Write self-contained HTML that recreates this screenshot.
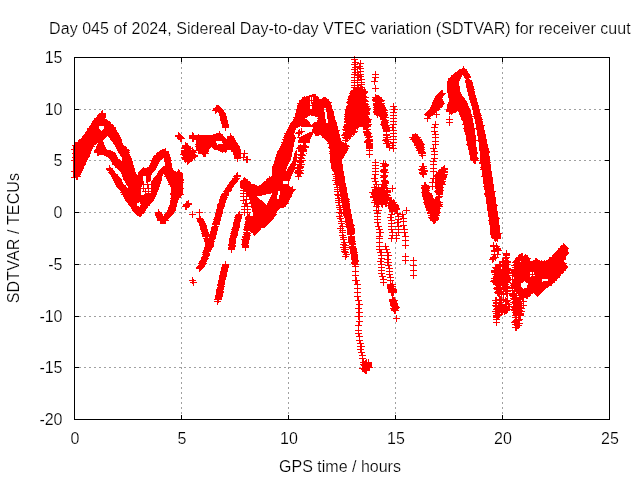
<!DOCTYPE html>
<html><head><meta charset="utf-8"><title>SDTVAR</title>
<style>
html,body{margin:0;padding:0;background:#fff;}
svg{display:block;}
text{font-family:"Liberation Sans",sans-serif;font-size:16px;fill:#000;stroke:#fff;stroke-width:0.2px;paint-order:fill stroke;}
</style></head><body>
<svg width="640" height="480" viewBox="0 0 640 480">
<rect width="640" height="480" fill="#fff"/>
<g shape-rendering="crispEdges" fill="none">
<path d="M181.5 57V419M288.5 57V419M395.5 57V419M502.5 57V419" stroke="#a0a0a0" stroke-width="1" stroke-dasharray="2 3"/>
<path d="M74 109.5H609M74 160.5H609M74 212.5H609M74 264.5H609M74 316.5H609M74 367.5H609" stroke="#a0a0a0" stroke-width="1" stroke-dasharray="2 3"/>
<path d="M74.5 419v-4M74.5 58v4M181.5 419v-4M181.5 58v4M288.5 419v-4M288.5 58v4M395.5 419v-4M395.5 58v4M502.5 419v-4M502.5 58v4M609.5 419v-4M609.5 58v4M75 57.5h4M609 57.5h-4M75 109.5h4M609 109.5h-4M75 160.5h4M609 160.5h-4M75 212.5h4M609 212.5h-4M75 264.5h4M609 264.5h-4M75 316.5h4M609 316.5h-4M75 367.5h4M609 367.5h-4M75 419.5h4M609 419.5h-4" stroke="#000" stroke-width="1"/>
<g transform="translate(0,0.5)"><path d="M354 56h1M354 57h1M354 58h1M351 59h7M354 60h2M360 60h1M354 61h2M360 61h1M352 62h7M360 62h1M354 63h2M357 63h7M351 64h7M359 64h2M354 65h2M359 65h2M354 66h9M463 66h1M352 67h9M463 67h1M354 68h2M357 68h7M462 68h3M351 69h7M359 69h2M459 69h8M354 70h2M357 70h1M360 70h1M458 70h9M354 71h2M357 71h7M375 71h1M457 71h11M352 72h9M375 72h1M455 72h13M354 73h2M357 73h2M360 73h1M375 73h1M454 73h15M351 74h13M372 74h7M453 74h17M354 75h8M375 75h1M451 75h11M463 75h7M354 76h1M357 76h7M375 76h1M451 76h11M464 76h7M351 77h11M372 77h7M450 77h11M464 77h7M354 78h1M357 78h2M360 78h2M374 78h2M448 78h13M465 78h4M354 79h1M357 79h8M374 79h2M448 79h12M466 79h4M351 80h11M374 80h2M448 80h12M465 80h7M354 81h1M357 81h1M361 81h1M371 81h7M447 81h12M465 81h7M351 82h14M374 82h1M447 82h12M465 82h8M354 83h1M357 83h1M361 83h1M374 83h1M447 83h12M466 83h7M354 84h1M357 84h8M374 84h1M447 84h12M466 84h7M351 85h11M375 85h1M447 85h12M466 85h7M354 86h1M357 86h2M360 86h3M375 86h1M447 86h13M466 86h8M351 87h14M375 87h1M447 87h13M466 87h8M353 88h10M364 88h1M372 88h7M447 88h13M467 88h7M353 89h13M375 89h1M447 89h13M467 89h8M351 90h15M375 90h1M441 90h2M447 90h13M467 90h7M350 91h18M375 91h1M440 91h3M447 91h13M467 91h8M350 92h18M439 92h4M447 92h14M468 92h7M349 93h18M438 93h8M448 93h13M468 93h7M312 94h4M350 94h16M375 94h1M437 94h8M448 94h14M468 94h7M309 95h7M349 95h17M375 95h4M436 95h8M448 95h14M468 95h8M304 96h1M306 96h12M348 96h19M375 96h5M435 96h8M448 96h15M469 96h7M302 97h8M311 97h1M313 97h6M323 97h3M348 97h21M372 97h10M435 97h8M448 97h16M469 97h7M302 98h8M311 98h1M313 98h6M322 98h5M348 98h18M373 98h9M434 98h8M449 98h16M469 98h8M301 99h9M311 99h1M313 99h16M347 99h20M372 99h11M434 99h9M449 99h16M469 99h8M299 100h30M348 100h20M372 100h13M433 100h10M449 100h17M470 100h7M299 101h11M311 101h1M313 101h17M347 101h22M373 101h11M433 101h11M449 101h18M470 101h7M299 102h11M311 102h21M346 102h20M375 102h7M432 102h12M448 102h19M470 102h8M297 103h13M311 103h20M347 103h21M373 103h12M393 103h1M432 103h13M448 103h20M471 103h7M298 104h12M312 104h19M348 104h21M373 104h11M393 104h1M432 104h12M447 104h21M471 104h7M216 105h3M297 105h35M347 105h21M373 105h12M393 105h1M431 105h12M447 105h21M471 105h8M216 106h4M297 106h13M312 106h20M346 106h24M374 106h11M390 106h7M431 106h12M447 106h22M472 106h7M215 107h6M297 107h13M312 107h20M346 107h23M373 107h13M393 107h2M430 107h12M447 107h22M472 107h7M213 108h9M297 108h13M312 108h12M326 108h6M346 108h25M374 108h12M393 108h2M430 108h10M447 108h23M472 108h7M213 109h10M296 109h28M326 109h7M345 109h25M373 109h14M391 109h7M429 109h11M446 109h24M472 109h8M102 110h1M212 110h12M296 110h28M326 110h7M345 110h25M374 110h14M393 110h2M428 110h11M446 110h25M473 110h7M101 111h2M215 111h9M296 111h28M326 111h8M345 111h24M373 111h13M393 111h2M427 111h10M446 111h11M458 111h13M473 111h7M101 112h2M215 112h2M218 112h7M296 112h29M327 112h7M345 112h25M373 112h15M390 112h7M426 112h11M449 112h7M459 112h12M473 112h7M99 113h7M215 113h1M219 113h7M295 113h30M327 113h7M345 113h25M374 113h13M393 113h1M425 113h10M436 113h1M449 113h4M459 113h12M473 113h8M98 114h8M219 114h7M295 114h30M327 114h7M344 114h26M374 114h14M393 114h1M424 114h16M449 114h1M451 114h1M459 114h13M473 114h8M97 115h9M219 115h7M295 115h15M311 115h14M327 115h7M345 115h23M376 115h12M390 115h7M425 115h8M436 115h1M460 115h12M474 115h8M97 116h9M220 116h7M295 116h13M315 116h10M327 116h8M344 116h25M377 116h1M379 116h8M393 116h1M427 116h4M436 116h1M449 116h1M460 116h21M96 117h10M220 117h7M293 117h14M318 117h7M327 117h8M345 117h24M377 117h1M380 117h9M393 117h1M427 117h3M436 117h1M449 117h1M461 117h11M474 117h8M94 118h11M220 118h7M294 118h11M317 118h8M327 118h8M344 118h26M380 118h6M390 118h7M424 118h7M449 118h1M461 118h12M474 118h8M94 119h13M220 119h7M293 119h14M318 119h8M328 119h7M344 119h28M380 119h7M393 119h1M427 119h1M446 119h7M461 119h12M475 119h8M93 120h15M220 120h8M293 120h15M317 120h9M328 120h8M345 120h26M382 120h7M393 120h1M427 120h1M449 120h1M462 120h11M475 120h7M92 121h18M221 121h7M292 121h17M317 121h9M328 121h8M344 121h27M381 121h7M390 121h7M427 121h1M435 121h1M449 121h1M463 121h10M475 121h8M92 122h19M221 122h7M291 122h19M314 122h12M328 122h9M344 122h27M381 122h8M393 122h1M435 122h1M446 122h7M463 122h10M475 122h8M91 123h20M221 123h7M290 123h20M313 123h24M346 123h23M381 123h7M393 123h1M435 123h1M449 123h1M463 123h11M475 123h8M91 124h22M222 124h7M290 124h21M312 124h25M344 124h28M380 124h8M390 124h7M432 124h7M449 124h1M462 124h12M476 124h7M90 125h24M222 125h7M289 125h48M344 125h27M381 125h9M392 125h2M434 125h2M449 125h1M464 125h10M476 125h9M89 126h10M104 126h10M222 126h7M289 126h11M301 126h37M343 126h28M382 126h7M392 126h2M434 126h2M464 126h10M476 126h8M89 127h10M104 127h12M222 127h7M288 127h10M313 127h25M343 127h16M363 127h6M382 127h14M431 127h7M464 127h10M476 127h8M87 128h12M104 128h12M225 128h1M288 128h8M301 128h1M313 128h25M344 128h14M363 128h5M382 128h8M392 128h2M434 128h1M463 128h21M87 129h13M103 129h13M225 129h1M287 129h9M299 129h1M301 129h1M312 129h26M342 129h14M357 129h1M363 129h8M383 129h7M392 129h2M434 129h1M464 129h11M476 129h8M87 130h14M102 130h15M225 130h1M287 130h8M298 130h2M301 130h1M312 130h28M343 130h13M366 130h3M383 130h14M434 130h1M464 130h11M477 130h8M86 131h31M219 131h1M286 131h9M298 131h7M312 131h27M345 131h13M363 131h7M383 131h7M393 131h1M431 131h7M464 131h11M477 131h8M85 132h33M178 132h1M192 132h1M219 132h1M286 132h9M296 132h7M309 132h30M343 132h14M363 132h8M386 132h1M393 132h1M434 132h2M465 132h10M477 132h8M85 133h34M178 133h2M192 133h2M216 133h5M230 133h1M284 133h10M295 133h7M307 133h6M314 133h25M343 133h12M364 133h8M386 133h1M390 133h7M415 133h1M434 133h2M465 133h10M477 133h8M84 134h35M178 134h3M192 134h2M198 134h1M213 134h10M230 134h1M285 134h9M298 134h2M301 134h1M305 134h8M315 134h25M342 134h13M364 134h7M383 134h7M393 134h1M412 134h6M432 134h7M465 134h10M477 134h9M83 135h37M175 135h7M189 135h34M230 135h2M284 135h11M298 135h2M303 135h9M315 135h4M321 135h19M341 135h11M353 135h1M364 135h7M383 135h7M393 135h1M412 135h6M435 135h1M466 135h10M477 135h9M82 136h25M108 136h12M175 136h8M189 136h35M227 136h7M284 136h11M298 136h1M301 136h11M322 136h18M344 136h9M366 136h7M386 136h2M390 136h7M412 136h7M435 136h1M466 136h10M478 136h8M82 137h24M109 137h12M177 137h7M189 137h36M227 137h7M283 137h13M297 137h14M322 137h18M342 137h9M365 137h7M383 137h8M393 137h1M409 137h12M432 137h7M466 137h10M478 137h8M81 138h24M110 138h11M177 138h8M189 138h37M227 138h8M284 138h12M299 138h12M324 138h17M343 138h8M367 138h3M385 138h3M393 138h1M411 138h9M435 138h1M466 138h10M478 138h8M79 139h25M110 139h12M178 139h4M192 139h43M282 139h13M299 139h11M325 139h16M345 139h3M349 139h1M366 139h7M383 139h14M410 139h12M435 139h1M466 139h10M478 139h9M78 140h25M111 140h11M180 140h2M192 140h2M196 140h40M283 140h12M298 140h12M326 140h15M342 140h7M365 140h8M382 140h7M393 140h1M412 140h10M435 140h1M466 140h21M78 141h25M112 141h10M180 141h2M192 141h2M196 141h20M222 141h14M283 141h12M298 141h12M327 141h15M345 141h3M364 141h9M384 141h7M393 141h1M412 141h11M432 141h7M467 141h9M478 141h9M75 142h29M113 142h9M185 142h1M196 142h20M222 142h15M281 142h13M298 142h12M328 142h16M345 142h1M364 142h7M385 142h4M390 142h7M413 142h10M435 142h1M467 142h9M479 142h8M75 143h22M98 143h6M113 143h10M185 143h3M196 143h21M223 143h15M282 143h12M303 143h3M327 143h20M366 143h7M383 143h11M414 143h10M435 143h1M467 143h9M479 143h8M75 144h21M97 144h7M114 144h9M185 144h3M195 144h22M218 144h20M281 144h13M300 144h1M303 144h3M329 144h18M366 144h7M386 144h4M392 144h2M414 144h11M432 144h7M466 144h10M479 144h9M72 145h22M97 145h8M115 145h9M182 145h7M196 145h43M281 145h13M298 145h9M329 145h20M366 145h7M386 145h10M414 145h10M433 145h1M435 145h1M467 145h9M479 145h9M73 146h22M96 146h9M115 146h11M182 146h9M195 146h45M280 146h14M298 146h11M329 146h21M366 146h7M386 146h4M392 146h2M416 146h8M433 146h1M435 146h1M468 146h8M479 146h9M73 147h20M96 147h10M116 147h11M182 147h9M192 147h1M196 147h15M212 147h28M280 147h13M297 147h12M328 147h20M366 147h7M386 147h8M415 147h10M433 147h1M435 147h1M468 147h9M479 147h9M73 148h20M96 148h10M116 148h11M165 148h1M181 148h12M196 148h14M213 148h27M279 148h14M296 148h10M329 148h20M366 148h7M389 148h8M416 148h8M430 148h7M468 148h9M479 148h10M71 149h21M95 149h12M117 149h12M162 149h4M184 149h7M192 149h2M196 149h13M214 149h27M279 149h14M298 149h9M330 149h18M369 149h1M389 149h1M393 149h1M417 149h8M433 149h2M468 149h9M479 149h10M73 150h19M94 150h17M117 150h13M160 150h6M181 150h28M218 150h9M231 150h10M244 150h1M278 150h15M296 150h1M298 150h9M330 150h18M366 150h7M389 150h1M393 150h1M416 150h8M433 150h2M469 150h8M479 150h10M73 151h18M94 151h19M118 151h11M159 151h10M181 151h15M198 151h11M220 151h7M231 151h10M244 151h1M277 151h16M295 151h2M298 151h9M329 151h18M369 151h1M393 151h1M418 151h7M431 151h7M469 151h8M480 151h10M73 152h18M94 152h21M118 152h12M157 152h12M181 152h16M198 152h10M222 152h1M225 152h1M233 152h8M244 152h1M277 152h15M295 152h2M300 152h4M330 152h17M369 152h1M418 152h8M434 152h1M469 152h9M480 152h10M72 153h19M97 153h19M119 153h10M156 153h13M181 153h14M198 153h11M233 153h15M277 153h15M294 153h3M300 153h4M306 153h1M329 153h17M369 153h1M418 153h8M434 153h1M469 153h9M480 153h9M73 154h17M97 154h19M120 154h10M156 154h14M180 154h16M202 154h4M233 154h8M243 154h2M276 154h16M294 154h11M330 154h15M366 154h7M421 154h2M431 154h7M469 154h8M480 154h9M73 155h17M97 155h2M104 155h13M120 155h10M154 155h16M182 155h16M203 155h3M234 155h7M243 155h2M276 155h16M294 155h3M298 155h8M330 155h15M369 155h1M419 155h7M434 155h1M470 155h7M480 155h9M73 156h17M106 156h11M121 156h10M153 156h17M183 156h15M203 156h3M234 156h7M243 156h2M246 156h2M276 156h16M294 156h3M300 156h3M330 156h14M369 156h1M421 156h2M434 156h1M470 156h7M480 156h10M72 157h17M108 157h10M122 157h9M153 157h18M181 157h15M234 157h14M275 157h16M293 157h11M330 157h14M369 157h1M422 157h1M434 157h1M470 157h8M480 157h10M73 158h15M109 158h9M122 158h10M152 158h11M164 158h7M182 158h13M234 158h7M243 158h1M246 158h2M275 158h16M293 158h4M298 158h7M330 158h13M422 158h1M431 158h7M470 158h9M480 158h10M73 159h15M110 159h10M122 159h10M152 159h10M164 159h7M182 159h11M194 159h1M237 159h1M243 159h8M275 159h16M293 159h4M299 159h3M330 159h12M375 159h1M433 159h2M470 159h8M480 159h10M71 160h16M111 160h10M122 160h10M150 160h10M164 160h8M184 160h9M237 160h1M243 160h1M246 160h2M275 160h15M293 160h13M330 160h12M375 160h1M383 160h1M433 160h2M471 160h8M480 160h10M73 161h14M111 161h22M151 161h9M164 161h7M184 161h8M237 161h1M246 161h2M274 161h16M292 161h12M330 161h12M375 161h1M383 161h1M385 161h1M430 161h7M473 161h3M480 161h10M73 162h13M112 162h21M151 162h8M165 162h6M185 162h1M187 162h3M246 162h2M274 162h15M292 162h4M297 162h7M330 162h12M372 162h7M383 162h1M385 162h1M433 162h1M473 162h3M479 162h12M73 163h13M112 163h21M150 163h9M165 163h7M187 163h2M274 163h15M291 163h5M299 163h3M331 163h11M375 163h1M380 163h7M422 163h2M433 163h1M474 163h2M479 163h11M73 164h13M112 164h21M150 164h8M165 164h7M187 164h1M273 164h15M290 164h15M331 164h12M375 164h1M382 164h7M422 164h2M430 164h7M481 164h10M73 165h12M109 165h1M114 165h20M149 165h9M165 165h7M273 165h15M290 165h6M297 165h5M331 165h12M372 165h7M382 165h7M422 165h2M433 165h1M444 165h1M481 165h10M73 166h11M109 166h1M115 166h19M149 166h8M163 166h9M272 166h15M289 166h6M297 166h7M331 166h12M375 166h1M380 166h8M419 166h8M433 166h1M443 166h2M481 166h10M73 167h11M109 167h2M115 167h19M143 167h1M147 167h10M162 167h10M272 167h15M288 167h16M331 167h12M375 167h1M383 167h3M421 167h4M433 167h1M441 167h4M480 167h11M73 168h11M106 168h7M117 168h18M142 168h14M161 168h12M272 168h15M288 168h15M331 168h12M372 168h7M383 168h3M420 168h7M430 168h7M441 168h7M481 168h10M73 169h10M106 169h7M118 169h17M141 169h15M160 169h13M178 169h1M272 169h14M287 169h8M297 169h4M332 169h11M375 169h1M381 169h7M418 169h7M433 169h1M439 169h9M480 169h11M73 170h10M107 170h7M119 170h16M140 170h15M159 170h15M178 170h2M272 170h14M287 170h7M295 170h9M332 170h11M375 170h1M380 170h8M419 170h9M433 170h1M438 170h8M482 170h9M71 171h11M109 171h6M120 171h15M139 171h15M158 171h18M177 171h3M272 171h22M295 171h7M333 171h11M372 171h7M380 171h7M421 171h7M430 171h7M438 171h10M482 171h10M73 172h9M108 172h7M121 172h15M138 172h15M158 172h24M237 172h1M272 172h21M294 172h9M334 172h10M375 172h1M381 172h8M419 172h7M433 172h1M436 172h12M482 172h10M73 173h8M109 173h7M121 173h15M138 173h14M157 173h26M236 173h2M272 173h21M295 173h9M334 173h10M375 173h1M383 173h3M419 173h8M433 173h1M436 173h9M482 173h10M73 174h8M110 174h8M122 174h15M138 174h14M157 174h6M164 174h19M236 174h2M272 174h20M297 174h4M332 174h12M372 174h7M383 174h3M420 174h7M433 174h1M435 174h13M482 174h10M73 175h7M111 175h7M122 175h29M156 175h7M165 175h18M234 175h7M272 175h20M297 175h4M335 175h9M374 175h2M380 175h8M422 175h2M433 175h14M482 175h10M73 176h8M111 176h8M122 176h21M146 176h5M155 176h7M164 176h19M233 176h8M269 176h1M271 176h20M295 176h7M333 176h12M374 176h2M381 176h7M422 176h2M433 176h14M481 176h11M71 177h7M112 177h8M123 177h20M146 177h5M154 177h8M166 177h17M234 177h4M244 177h1M269 177h22M298 177h1M335 177h10M374 177h2M380 177h7M423 177h1M433 177h1M435 177h12M483 177h10M74 178h1M76 178h2M112 178h9M123 178h20M146 178h5M153 178h9M166 178h17M232 178h8M243 178h3M267 178h24M298 178h1M333 178h12M371 178h7M383 178h3M430 178h16M483 178h10M74 179h1M76 179h2M113 179h9M123 179h20M146 179h5M153 179h9M167 179h17M232 179h7M243 179h5M266 179h24M298 179h1M335 179h10M374 179h2M383 179h3M432 179h2M435 179h11M483 179h10M74 180h1M113 180h9M124 180h19M146 180h5M152 180h10M167 180h17M231 180h7M241 180h7M266 180h24M332 180h13M374 180h2M381 180h7M432 180h2M435 180h9M483 180h10M114 181h8M125 181h19M146 181h4M151 181h10M168 181h15M230 181h8M240 181h10M264 181h19M288 181h1M335 181h10M372 181h7M381 181h8M432 181h2M435 181h11M483 181h10M114 182h9M125 182h19M146 182h2M151 182h10M168 182h16M229 182h8M240 182h11M263 182h20M288 182h1M334 182h11M375 182h2M382 182h7M424 182h2M429 182h16M483 182h10M115 183h8M126 183h18M147 183h1M151 183h10M169 183h14M229 183h7M240 183h11M262 183h21M288 183h1M335 183h11M375 183h2M382 183h7M424 183h2M432 183h1M435 183h10M483 183h10M115 184h9M126 184h34M168 184h15M228 184h7M240 184h15M261 184h28M333 184h13M373 184h14M424 184h3M432 184h1M435 184h11M484 184h10M116 185h10M127 185h15M143 185h1M147 185h2M151 185h9M170 185h13M227 185h7M240 185h17M259 185h30M336 185h10M374 185h1M376 185h1M378 185h1M381 185h7M392 185h1M421 185h8M432 185h1M435 185h8M484 185h10M116 186h10M128 186h14M143 186h1M147 186h2M151 186h9M170 186h13M227 186h7M240 186h50M292 186h1M336 186h2M339 186h7M374 186h3M378 186h1M381 186h6M392 186h1M422 186h21M483 186h11M117 187h10M128 187h13M143 187h1M147 187h2M151 187h8M171 187h12M226 187h7M240 187h53M334 187h13M371 187h17M392 187h1M421 187h9M432 187h1M435 187h9M484 187h10M118 188h41M171 188h13M225 188h7M241 188h52M337 188h1M339 188h8M374 188h22M421 188h9M432 188h1M435 188h8M484 188h10M119 189h22M143 189h1M145 189h1M148 189h1M151 189h8M171 189h12M225 189h7M243 189h53M334 189h13M372 189h13M386 189h2M392 189h1M422 189h7M432 189h1M436 189h7M484 189h10M120 190h21M143 190h1M145 190h1M148 190h1M151 190h7M171 190h12M224 190h8M240 190h55M337 190h1M339 190h8M372 190h19M392 190h1M422 190h8M435 190h9M485 190h9M121 191h20M142 191h16M171 191h12M223 191h8M243 191h35M280 191h14M334 191h13M372 191h19M392 191h1M422 191h7M434 191h9M485 191h11M120 192h21M145 192h1M148 192h1M151 192h6M171 192h12M224 192h5M243 192h1M246 192h32M280 192h13M337 192h2M340 192h7M369 192h22M421 192h9M435 192h8M485 192h10M122 193h19M145 193h12M170 193h13M222 193h7M240 193h31M272 193h6M280 193h13M337 193h2M340 193h8M371 193h17M422 193h10M436 193h7M484 193h11M121 194h20M144 194h13M170 194h14M221 194h8M243 194h1M246 194h20M272 194h6M280 194h12M334 194h14M371 194h19M422 194h10M436 194h7M484 194h11M123 195h33M171 195h11M221 195h8M243 195h1M246 195h16M271 195h6M279 195h13M335 195h13M372 195h19M422 195h11M438 195h2M485 195h10M123 196h33M171 196h10M220 196h7M240 196h17M271 196h6M279 196h13M337 196h2M340 196h8M370 196h19M422 196h11M436 196h7M485 196h10M124 197h31M171 197h10M220 197h8M243 197h1M246 197h1M249 197h9M270 197h7M279 197h12M337 197h3M341 197h7M370 197h22M423 197h10M435 197h7M486 197h10M124 198h31M170 198h9M220 198h7M243 198h1M246 198h1M249 198h10M270 198h7M279 198h11M335 198h14M373 198h19M423 198h11M435 198h5M486 198h10M125 199h29M171 199h8M219 199h8M243 199h17M269 199h21M338 199h2M341 199h9M373 199h19M393 199h1M423 199h17M486 199h10M125 200h29M170 200h8M188 200h1M219 200h7M240 200h7M250 200h12M269 200h20M335 200h14M372 200h23M424 200h16M486 200h10M126 201h27M170 201h8M186 201h3M219 201h7M243 201h1M245 201h2M250 201h13M268 201h21M338 201h2M341 201h9M374 201h14M389 201h6M424 201h17M486 201h10M127 202h12M140 202h12M170 202h8M186 202h3M219 202h7M243 202h1M245 202h2M249 202h15M268 202h20M335 202h14M371 202h26M423 202h20M486 202h10M128 203h9M140 203h11M170 203h7M185 203h7M218 203h7M242 203h23M267 203h22M338 203h2M342 203h8M374 203h22M424 203h17M486 203h10M128 204h9M141 204h9M170 204h7M183 204h9M217 204h8M244 204h4M251 204h15M267 204h20M338 204h2M342 204h8M374 204h13M388 204h10M424 204h19M487 204h10M129 205h8M140 205h10M169 205h8M183 205h7M217 205h8M244 205h4M251 205h35M336 205h14M374 205h1M376 205h3M381 205h2M385 205h14M425 205h17M487 205h11M130 206h9M140 206h8M169 206h8M182 206h8M217 206h8M241 206h45M339 206h2M342 206h8M373 206h7M381 206h2M385 206h2M388 206h11M425 206h18M487 206h10M131 207h17M168 207h8M185 207h4M217 207h7M244 207h1M247 207h1M251 207h33M336 207h14M376 207h3M382 207h1M388 207h11M406 207h1M425 207h15M487 207h10M131 208h16M168 208h8M185 208h2M217 208h7M244 208h1M247 208h1M252 208h28M339 208h2M343 208h7M376 208h1M378 208h1M388 208h12M406 208h1M426 208h15M487 208h10M132 209h14M158 209h1M168 209h8M185 209h2M199 209h1M216 209h7M241 209h10M252 209h27M337 209h14M376 209h1M378 209h1M389 209h11M406 209h1M426 209h14M487 209h10M132 210h14M158 210h1M167 210h9M199 210h1M216 210h7M244 210h1M247 210h1M252 210h26M339 210h3M343 210h8M373 210h9M389 210h9M403 210h7M426 210h14M487 210h10M133 211h12M158 211h2M167 211h8M192 211h1M199 211h1M216 211h7M239 211h1M244 211h1M247 211h1M252 211h25M339 211h3M343 211h8M376 211h3M389 211h9M402 211h1M406 211h1M428 211h12M488 211h10M134 212h11M155 212h7M166 212h8M192 212h1M196 212h7M216 212h7M238 212h2M241 212h10M253 212h24M336 212h15M376 212h3M391 212h2M395 212h3M402 212h1M406 212h1M427 212h14M488 212h10M135 213h9M155 213h7M165 213h9M192 213h1M199 213h1M215 213h8M238 213h2M244 213h1M247 213h1M249 213h1M253 213h23M338 213h13M374 213h7M391 213h2M394 213h7M402 213h1M406 213h1M427 213h13M488 213h10M136 214h6M155 214h8M164 214h9M189 214h7M199 214h1M215 214h7M236 214h7M244 214h1M247 214h3M253 214h24M339 214h1M341 214h1M343 214h9M377 214h1M388 214h7M397 214h9M430 214h9M488 214h10M137 215h5M155 215h8M164 215h8M192 215h1M199 215h1M215 215h7M235 215h7M244 215h1M247 215h3M253 215h23M339 215h3M343 215h9M377 215h1M390 215h2M397 215h2M402 215h2M428 215h12M488 215h10M139 216h2M156 216h15M192 216h1M199 216h2M215 216h7M235 216h7M246 216h29M336 216h7M344 216h8M374 216h7M390 216h2M395 216h9M430 216h8M488 216h10M156 217h14M192 217h1M199 217h2M214 217h7M234 217h8M245 217h29M339 217h2M344 217h8M377 217h1M387 217h7M398 217h1M402 217h2M428 217h11M489 217h10M157 218h12M196 218h7M214 218h7M235 218h7M245 218h29M337 218h7M345 218h7M377 218h1M390 218h2M398 218h1M400 218h7M429 218h10M489 218h11M157 219h11M197 219h7M213 219h8M234 219h7M245 219h28M339 219h3M345 219h8M374 219h7M390 219h2M395 219h7M403 219h1M430 219h9M489 219h10M157 220h12M197 220h7M214 220h7M234 220h7M246 220h26M340 220h2M345 220h8M377 220h1M388 220h7M397 220h2M403 220h1M430 220h8M488 220h11M160 221h6M197 221h8M213 221h7M234 221h7M245 221h26M338 221h15M377 221h1M391 221h1M397 221h2M400 221h7M432 221h4M489 221h10M160 222h6M198 222h7M213 222h7M233 222h7M245 222h25M341 222h1M345 222h8M374 222h7M391 222h1M394 222h7M403 222h1M433 222h3M489 222h10M160 223h6M199 223h7M212 223h8M233 223h7M245 223h24M338 223h7M346 223h7M377 223h2M388 223h7M397 223h2M403 223h1M433 223h2M489 223h10M199 224h7M212 224h8M233 224h7M244 224h24M341 224h2M345 224h9M377 224h2M391 224h1M397 224h2M403 224h1M489 224h10M199 225h8M214 225h3M233 225h7M245 225h22M340 225h3M346 225h9M377 225h2M391 225h1M397 225h2M400 225h7M490 225h10M200 226h7M212 226h7M233 226h7M244 226h22M339 226h15M375 226h7M388 226h14M403 226h2M490 226h10M200 227h7M211 227h7M232 227h8M244 227h21M340 227h1M342 227h1M346 227h8M378 227h2M391 227h1M398 227h1M403 227h2M490 227h10M200 228h7M211 228h7M232 228h7M244 228h17M337 228h7M347 228h8M378 228h2M391 228h1M398 228h1M403 228h2M490 228h10M200 229h8M211 229h7M231 229h8M243 229h18M340 229h1M342 229h1M347 229h8M376 229h7M388 229h20M490 229h10M201 230h7M211 230h7M232 230h7M244 230h16M339 230h7M347 230h8M379 230h2M391 230h2M398 230h1M404 230h1M490 230h10M201 231h7M210 231h7M231 231h7M246 231h2M250 231h9M340 231h1M342 231h1M347 231h8M379 231h2M391 231h2M398 231h1M404 231h1M490 231h10M202 232h7M210 232h7M231 232h7M243 232h7M251 232h7M339 232h7M347 232h8M376 232h8M389 232h19M490 232h10M201 233h8M210 233h7M230 233h8M244 233h7M253 233h4M342 233h1M347 233h8M379 233h2M392 233h1M396 233h1M398 233h1M404 233h2M490 233h12M202 234h15M231 234h7M243 234h7M253 234h3M342 234h2M347 234h7M379 234h2M392 234h1M396 234h1M398 234h1M404 234h2M490 234h11M202 235h14M230 235h8M244 235h7M254 235h1M339 235h7M350 235h2M379 235h2M389 235h11M404 235h2M491 235h10M202 236h14M230 236h7M242 236h8M342 236h2M348 236h7M376 236h7M391 236h2M396 236h1M402 236h7M491 236h10M205 237h3M209 237h7M230 237h7M242 237h8M340 237h7M348 237h7M379 237h1M391 237h2M396 237h1M405 237h1M491 237h10M203 238h13M229 238h7M243 238h7M342 238h2M348 238h7M376 238h7M388 238h12M405 238h1M492 238h9M204 239h11M229 239h7M241 239h9M340 239h7M348 239h7M379 239h1M391 239h1M396 239h1M405 239h1M494 239h4M204 240h10M229 240h7M242 240h7M343 240h2M348 240h7M379 240h1M391 240h1M396 240h1M402 240h7M494 240h4M204 241h11M229 241h7M242 241h7M343 241h2M348 241h8M379 241h1M391 241h1M396 241h1M405 241h1M495 241h1M497 241h1M205 242h9M229 242h7M242 242h7M341 242h14M376 242h7M405 242h1M493 242h1M205 243h9M229 243h7M242 243h7M343 243h3M349 243h7M379 243h1M385 243h1M405 243h1M493 243h1M496 243h1M563 243h1M205 244h9M228 244h7M241 244h7M340 244h7M349 244h7M379 244h1M385 244h1M405 244h1M493 244h1M496 244h1M563 244h2M205 245h9M228 245h8M242 245h7M342 245h7M351 245h3M379 245h1M385 245h1M402 245h7M490 245h8M561 245h5M205 246h9M229 246h7M242 246h7M343 246h3M349 246h7M376 246h13M405 246h1M490 246h10M560 246h7M204 247h9M228 247h7M242 247h7M340 247h16M379 247h1M385 247h2M405 247h1M493 247h2M496 247h3M560 247h8M204 248h8M228 248h7M245 248h1M343 248h3M349 248h8M379 248h1M385 248h2M405 248h1M493 248h8M558 248h11M204 249h8M228 249h7M245 249h1M341 249h8M350 249h7M376 249h14M493 249h8M558 249h10M203 250h8M231 250h1M245 250h1M343 250h3M350 250h7M379 250h3M386 250h2M491 250h11M506 250h1M557 250h11M203 251h8M231 251h1M341 251h7M350 251h7M379 251h3M386 251h2M491 251h8M506 251h1M556 251h12M202 252h7M231 252h1M342 252h7M350 252h8M377 252h14M494 252h1M497 252h2M506 252h1M555 252h14M203 253h7M344 253h3M350 253h7M380 253h2M387 253h2M405 253h1M494 253h1M497 253h2M503 253h7M521 253h2M554 253h15M202 254h8M343 254h7M351 254h7M380 254h2M387 254h2M405 254h1M491 254h10M503 254h7M519 254h4M525 254h1M553 254h15M203 255h7M345 255h2M351 255h7M378 255h14M405 255h1M493 255h3M497 255h1M503 255h7M518 255h5M524 255h4M552 255h15M202 256h7M342 256h7M351 256h7M381 256h1M387 256h2M402 256h7M492 256h4M497 256h1M505 256h2M518 256h10M552 256h14M201 257h7M345 257h2M351 257h7M381 257h1M387 257h2M405 257h1M413 257h1M490 257h9M503 257h7M516 257h13M549 257h17M201 258h8M345 258h1M351 258h7M378 258h7M387 258h2M405 258h1M413 258h1M490 258h7M502 258h7M515 258h16M535 258h2M549 258h17M201 259h7M345 259h1M351 259h7M380 259h2M384 259h7M405 259h1M413 259h1M489 259h7M502 259h2M505 259h3M515 259h15M535 259h3M548 259h18M200 260h7M352 260h7M380 260h2M387 260h2M402 260h7M410 260h7M492 260h2M495 260h1M502 260h7M514 260h16M533 260h7M541 260h1M544 260h1M546 260h18M199 261h8M225 261h1M352 261h7M377 261h7M387 261h2M405 261h1M413 261h1M492 261h2M499 261h12M513 261h7M521 261h43M199 262h7M225 262h1M351 262h7M380 262h2M384 262h8M405 262h1M413 262h1M492 262h1M499 262h12M512 262h53M198 263h9M225 263h1M351 263h7M380 263h2M387 263h2M405 263h1M413 263h1M499 263h2M502 263h7M514 263h53M199 264h7M222 264h7M352 264h7M378 264h7M387 264h2M413 264h1M495 264h15M513 264h53M198 265h7M222 265h7M354 265h2M381 265h1M385 265h7M410 265h7M495 265h14M511 265h56M197 266h8M222 266h7M352 266h7M381 266h1M388 266h2M413 266h1M495 266h14M514 266h54M196 267h8M221 267h8M355 267h1M378 267h7M388 267h2M413 267h1M492 267h9M502 267h7M512 267h56M196 268h7M221 268h7M355 268h1M381 268h1M386 268h7M413 268h1M493 268h8M502 268h9M514 268h53M199 269h3M221 269h7M355 269h1M381 269h1M389 269h1M413 269h1M494 269h72M199 270h2M221 270h7M355 270h1M378 270h7M389 270h1M410 270h7M491 270h75M199 271h1M220 271h8M352 271h7M381 271h1M386 271h7M413 271h1M491 271h19M511 271h53M220 272h7M355 272h1M381 272h1M389 272h1M413 272h1M491 272h39M532 272h1M534 272h30M220 273h7M355 273h1M378 273h7M389 273h1M413 273h1M494 273h36M532 273h1M534 273h29M220 274h7M355 274h1M381 274h2M386 274h7M413 274h1M492 274h17M512 274h49M219 275h8M352 275h7M381 275h2M389 275h2M410 275h7M494 275h36M532 275h1M535 275h26M219 276h8M355 276h1M379 276h7M389 276h2M413 276h1M493 276h17M512 276h18M531 276h29M192 277h1M219 277h7M355 277h2M382 277h2M387 277h7M413 277h1M493 277h18M512 277h1M514 277h46M192 278h1M219 278h7M355 278h2M382 278h2M390 278h1M413 278h1M491 278h20M512 278h1M514 278h44M192 279h2M219 279h7M355 279h2M380 279h7M390 279h1M493 279h49M548 279h9M189 280h7M218 280h7M352 280h8M383 280h1M387 280h7M491 280h20M512 280h30M548 280h9M192 281h2M218 281h7M355 281h3M383 281h1M390 281h1M392 281h1M490 281h20M512 281h12M525 281h17M543 281h12M190 282h7M218 282h7M355 282h3M380 282h7M390 282h1M392 282h1M492 282h19M512 282h11M526 282h29M192 283h2M218 283h7M355 283h3M383 283h1M390 283h3M493 283h15M510 283h11M528 283h25M193 284h1M217 284h8M354 284h7M383 284h1M387 284h9M493 284h16M511 284h10M528 284h24M193 285h1M217 285h7M357 285h1M383 285h1M387 285h7M495 285h13M510 285h11M527 285h25M218 286h7M357 286h1M387 286h9M496 286h5M502 286h8M511 286h10M527 286h22M217 287h7M357 287h1M387 287h7M494 287h28M527 287h21M217 288h7M354 288h7M387 288h9M493 288h30M524 288h22M216 289h8M357 289h1M388 289h9M494 289h14M512 289h1M514 289h31M216 290h7M357 290h1M388 290h9M496 290h6M503 290h41M216 291h8M357 291h1M388 291h9M495 291h16M512 291h31M216 292h8M354 292h7M388 292h9M494 292h10M505 292h3M512 292h3M516 292h26M216 293h7M357 293h1M391 293h3M495 293h38M534 293h7M216 294h7M357 294h1M391 294h3M497 294h11M509 294h8M518 294h13M535 294h5M215 295h8M357 295h1M391 295h3M497 295h3M501 295h1M503 295h1M506 295h2M509 295h22M536 295h3M215 296h8M354 296h7M392 296h1M498 296h4M503 296h1M506 296h2M510 296h7M519 296h11M537 296h1M215 297h7M357 297h2M392 297h3M495 297h2M499 297h3M503 297h1M505 297h1M507 297h1M512 297h16M215 298h7M357 298h2M392 298h3M495 298h2M499 298h3M503 298h1M505 298h3M510 298h14M526 298h2M214 299h8M357 299h2M389 299h7M495 299h13M511 299h13M217 300h2M355 300h7M389 300h9M492 300h19M513 300h8M522 300h2M214 301h7M358 301h2M389 301h8M495 301h2M499 301h3M503 301h7M512 301h15M217 302h2M358 302h2M390 302h7M493 302h11M505 302h4M510 302h12M523 302h1M217 303h1M358 303h2M390 303h8M493 303h9M505 303h5M512 303h12M217 304h1M356 304h7M390 304h8M495 304h2M498 304h14M513 304h9M523 304h1M358 305h2M390 305h8M492 305h15M508 305h2M513 305h14M358 306h2M391 306h8M493 306h29M523 306h1M358 307h2M392 307h8M495 307h15M511 307h13M355 308h7M390 308h9M494 308h16M512 308h13M358 309h2M391 309h7M493 309h29M358 310h2M391 310h8M495 310h15M511 310h12M358 311h2M393 311h3M492 311h16M513 311h12M356 312h7M394 312h2M495 312h13M512 312h10M358 313h2M394 313h2M493 313h7M501 313h2M504 313h3M513 313h11M358 314h2M495 314h8M504 314h1M513 314h11M358 315h2M396 315h1M493 315h9M512 315h12M355 316h8M396 316h1M493 316h7M515 316h2M518 316h3M358 317h2M396 317h1M493 317h7M512 317h9M358 318h2M393 318h7M496 318h3M515 318h2M518 318h3M358 319h2M396 319h1M493 319h7M514 319h9M359 320h1M396 320h1M496 320h1M513 320h9M356 321h7M396 321h1M496 321h1M512 321h8M358 322h2M493 322h7M511 322h9M358 323h2M496 323h1M514 323h9M358 324h2M496 324h1M512 324h8M355 325h7M496 325h1M514 325h8M358 326h1M515 326h5M358 327h1M512 327h8M358 328h1M515 328h4M358 329h1M515 329h2M355 330h7M515 330h2M358 331h1M358 332h1M355 333h7M358 334h2M358 335h2M356 336h7M359 337h1M359 338h1M359 339h1M356 340h7M359 341h2M359 342h2M357 343h7M360 344h2M360 345h2M357 346h8M360 347h2M360 348h2M357 349h7M360 350h2M360 351h2M358 352h7M361 353h2M361 354h2M359 355h7M362 356h1M362 357h1M359 358h7M362 359h2M366 359h1M368 359h1M362 360h2M365 360h2M368 360h1M362 361h5M368 361h1M360 362h12M362 363h10M360 364h12M361 365h11M362 366h10M362 367h11M359 368h11M361 369h9M362 370h8M362 371h5M364 372h3M365 373h2" stroke="#ff0000" stroke-width="1"/></g>
<rect x="74.5" y="57.5" width="535" height="362" stroke="#000" stroke-width="1"/>
</g>
<g style="opacity:0.999">
<text x="339.9" y="34" text-anchor="middle" style="letter-spacing:0.05px">Day 045 of 2024, Sidereal Day-to-day VTEC variation (SDTVAR) for receiver cuut</text>
<text x="340" y="472" text-anchor="middle">GPS time / hours</text>
<text transform="translate(19,238) rotate(-90)" text-anchor="middle" style="letter-spacing:0.15px">SDTVAR / TECUs</text>
<text x="75" y="444" text-anchor="middle">0</text><text x="182" y="444" text-anchor="middle">5</text><text x="289" y="444" text-anchor="middle">10</text><text x="396" y="444" text-anchor="middle">15</text><text x="503" y="444" text-anchor="middle">20</text><text x="610" y="444" text-anchor="middle">25</text><text x="62.5" y="63" text-anchor="end">15</text><text x="62.5" y="115" text-anchor="end">10</text><text x="62.5" y="166" text-anchor="end">5</text><text x="62.5" y="218" text-anchor="end">0</text><text x="62.5" y="270" text-anchor="end">-5</text><text x="62.5" y="322" text-anchor="end">-10</text><text x="62.5" y="373" text-anchor="end">-15</text><text x="62.5" y="425" text-anchor="end">-20</text>
</g>
</svg>
</body></html>
